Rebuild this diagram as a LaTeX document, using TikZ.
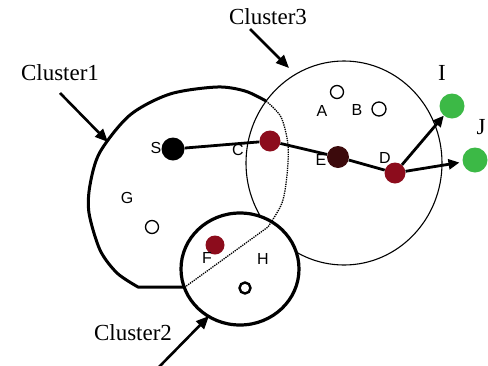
\documentclass[tikz,border=0pt]{standalone}
\usepackage{fontspec}
\setmainfont{Liberation Serif}
\newfontfamily\labelfont{Liberation Sans}
\usetikzlibrary{arrows.meta}
\definecolor{darkred}{RGB}{140,12,28}
\definecolor{darkbrown}{RGB}{60,10,12}
\definecolor{nodegreen}{RGB}{60,185,70}
\tikzset{
  dot/.style={circle,inner sep=0pt,minimum size=#1},
  dot/.default=21pt,
  hollow/.style={circle,draw,line width=1.3pt,inner sep=0pt,minimum size=13pt},
  cluster/.style={font=\fontsize{23}{25}\selectfont},
  lbl/.style={font=\labelfont\fontsize{16}{17}\selectfont},
  edge/.style={line width=2.8pt},
  pointer/.style={line width=2.6pt,-{Triangle[length=13pt,width=11pt]}}
}
\begin{document}
\begin{tikzpicture}[x=1pt,y=-1pt]
  \useasboundingbox (0,0) rectangle (488,365);
  % Cluster3
  \draw[line width=1.1pt] (344,163) ellipse[x radius=98,y radius=102];
  % Cluster1
  \draw[line width=3pt,line join=round] (185,287) -- plot[smooth] coordinates {(138,287) (117,273) (100,250) (89,213) (90,185) (100,152) (130,115) (170,94) (217,87) (245,91) (266,101)};
  \fill[white] (240,269) ellipse[x radius=59,y radius=56];
  \draw[line width=1.3pt,densely dotted] plot[smooth] coordinates {(266,101) (281,117) (288,145) (287,175) (282,203) (268,227)} -- (185,287);
  % Cluster2
  \draw[line width=3.2pt] (240,269) ellipse[x radius=59,y radius=56];

  \node[dot=23pt,fill=black] (S) at (173,149) {};
  \node[dot,fill=darkred] (C) at (270,141) {};
  \node[dot=22pt,fill=darkbrown] (E) at (338,157) {};
  \node[dot,fill=darkred] (D) at (395,173) {};
  \node[dot=25pt,fill=nodegreen] (I) at (452,106) {};
  \node[dot=25pt,fill=nodegreen] (J) at (475,160) {};
  \node[dot=19pt,fill=darkred] (F) at (215,245) {};
  \node[hollow] (A) at (337,92) {};
  \node[hollow,minimum size=14pt] (B) at (379,109) {};
  \node[hollow] (G) at (152,227) {};
  \node[hollow,line width=2.4pt,minimum size=11pt] (H) at (245,288) {};

  \draw[edge] (S) -- (C) -- (E) -- (D);
  \draw[edge,-{Triangle[length=11pt,width=10pt]}] (D) -- (I);
  \draw[edge,-{Triangle[length=11pt,width=10pt]},shorten >=3pt] (D) -- (J);

  \foreach \n/\x/\y in {S/156/148, C/238/150, E/321/160, D/385/158, A/322/111, B/357/110, G/127/198, F/207/258, H/263/259} {
    \node[lbl] (\n lbl) at (\x,\y) {\n};
  }
  \node[cluster] (Ilbl) at (442,73) {I};
  \node[cluster] (Jlbl) at (481,127) {J};

  \node[cluster] (c1) at (60,73) {Cluster1};
  \node[cluster] (c3) at (268,17) {Cluster3};
  \node[cluster] (c2) at (133,333) {Cluster2};
  \coordinate (c1from) at (60,93);
  \coordinate (c1to) at (108,142);
  \coordinate (c3from) at (250,29);
  \coordinate (c3to) at (289,68);
  \coordinate (c2from) at (158,368);
  \coordinate (c2to) at (209,316);
  \draw[pointer] (c1from) -- (c1to);
  \draw[pointer] (c3from) -- (c3to);
  \draw[pointer] (c2from) -- (c2to);
\end{tikzpicture}
\end{document}
